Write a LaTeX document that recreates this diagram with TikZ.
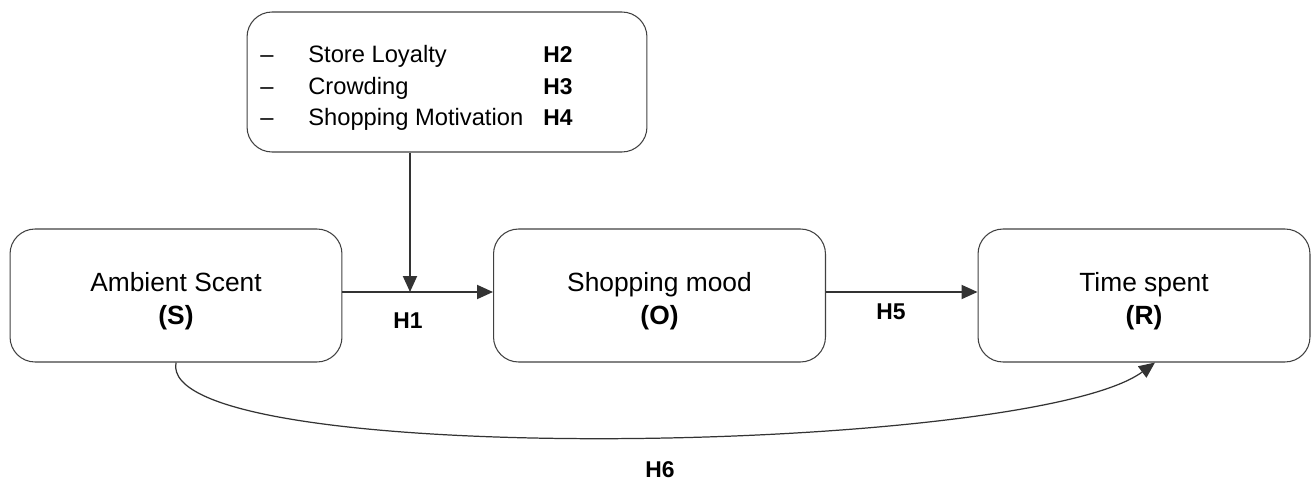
\documentclass[tikz,border=0pt]{standalone}
\usepackage{fontspec}
\setmainfont{Liberation Sans}
\usetikzlibrary{arrows.meta}
\tikzset{
  construct/.style={draw=black!75, line width=0.6pt, rounded corners=0.5cm,
    minimum width=6.64cm, minimum height=2.66cm, align=center, text height=36pt,
    font=\fontsize{15}{18.5}\selectfont},
  link/.style={draw=black!80, line width=1.1pt,
    -{Triangle[length=0.32cm,width=0.28cm]}},
  hyp/.style={font=\fontsize{13}{15}\selectfont\bfseries},
  item/.style={anchor=base west, inner sep=0pt, font=\fontsize{13.5}{16}\selectfont}
}
\begin{document}
\begin{tikzpicture}[x=0.02cm, y=-0.02cm]
\useasboundingbox (0,0) rectangle (1314,483);
% moderators
\node[construct, minimum width=8cm, minimum height=2.8cm] (mod) at (447,82) {};
\foreach \row/\name/\txt/\h in {0/loyal/Store Loyalty/H2, 1/crowd/Crowding/H3, 2/motiv/Shopping Motivation/H4} {
  \node[item] (dash-\name) at (260,62.3+31.7*\row) {--};
  \node[item] (\name) at (308,62.3+31.7*\row) {\txt};
  \node[item, font=\fontsize{13}{15}\selectfont\bfseries] (h-\name) at (543,62.3+31.7*\row) {\h};
}
% S-O-R
\node[construct] (S) at (176,295.5) {Ambient Scent\\\textbf{(S)}};
\node[construct] (O) at (659.5,295.5) {Shopping mood\\\textbf{(O)}};
\node[construct] (R) at (1144,295.5) {Time spent\\\textbf{(R)}};
\coordinate (join) at (410,292);
\draw[link] (S.east |- join) -- (O.west |- join);
\draw[link] (join |- mod.south) -- (join);
\draw[link] (O.east |- join) -- (R.west |- join);
\draw[link, line width=0.7pt] (S.south) .. controls (155,470) and (1030,455) .. ([xshift=0.22cm]R.south);
\node[hyp] (H1) at (408,321) {H1};
\node[hyp] (H5) at (891,312) {H5};
\node[hyp] (H6) at (660,470) {H6};
\end{tikzpicture}
\end{document}
